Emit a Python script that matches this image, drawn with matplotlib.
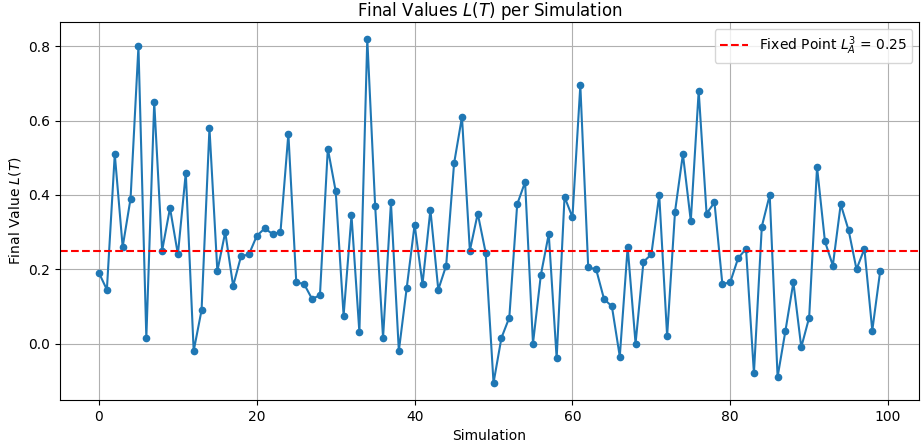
import numpy as np
from matplotlib import pyplot as plt

# final L(T) of each simulation run
final_values = [
    0.19, 0.145, 0.51, 0.26, 0.39, 0.80, 0.015, 0.65, 0.25, 0.365,
    0.24, 0.46, -0.02, 0.09, 0.58, 0.195, 0.30, 0.155, 0.235, 0.24,
    0.29, 0.31, 0.295, 0.30, 0.565, 0.165, 0.16, 0.12, 0.13, 0.525,
    0.41, 0.075, 0.345, 0.03, 0.82, 0.37, 0.015, 0.38, -0.02, 0.15,
    0.32, 0.16, 0.36, 0.145, 0.21, 0.485, 0.61, 0.25, 0.35, 0.245,
    -0.106, 0.015, 0.07, 0.375, 0.435, 0.0, 0.185, 0.295, -0.04, 0.395,
    0.34, 0.695, 0.205, 0.20, 0.12, 0.10, -0.035, 0.26, 0.0, 0.22,
    0.24, 0.40, 0.02, 0.355, 0.51, 0.33, 0.68, 0.35, 0.38, 0.16,
    0.165, 0.23, 0.255, -0.08, 0.315, 0.40, -0.09, 0.035, 0.165, -0.01,
    0.07, 0.475, 0.275, 0.21, 0.375, 0.305, 0.20, 0.255, 0.035, 0.195,
]
fixed_point = 0.25

simulations = np.arange(len(final_values))

fig, ax = plt.subplots(figsize=(9.22, 4.46), dpi=100)
ax.plot(simulations, final_values, marker='o', markersize=4.5, color='tab:blue')
ax.axhline(fixed_point, color='red', linestyle='--', label=f'Fixed Point $L_A^3$ = {fixed_point}')

ax.set_xlabel("Simulation")
ax.set_ylabel("Final Value $L(T)$")
ax.set_title("Final Values $L(T)$ per Simulation", pad=4)
ax.legend(loc='upper right')
ax.grid(True)

fig.subplots_adjust(left=0.065, right=0.997, top=0.951, bottom=0.103)
fig.savefig("out.png", dpi=100)
